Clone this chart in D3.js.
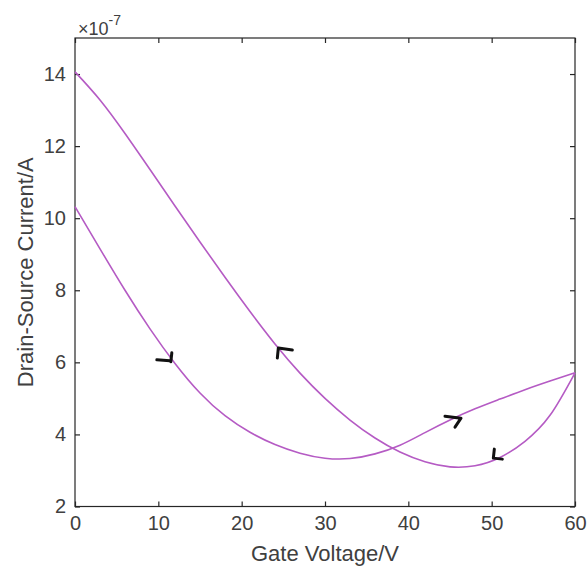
<!DOCTYPE html>
<html>
<head>
<meta charset="utf-8">
<script src="https://cdn.jsdelivr.net/npm/d3@7"></script>
<style>
  html, body { margin: 0; padding: 0; background: #fff; }
  svg { display: block; font-family: "Liberation Sans", Arial, sans-serif; }
</style>
</head>
<body>
<svg id="chart" width="587" height="571"></svg>
<script>
// Forward sweep (lower start at V=0)
const sweepUpX = [0, 3, 6, 9, 12, 15, 18, 21, 24, 27, 30, 33, 36, 39, 42, 45, 48, 51, 54, 57, 60];
const sweepUpY = [10.32, 9.15, 8.0, 6.93, 5.97, 5.15, 4.52, 4.06, 3.72, 3.48, 3.34, 3.33, 3.46, 3.7, 4.05, 4.4, 4.71, 4.98, 5.24, 5.48, 5.71];
// Return sweep (higher value at V=0)
const sweepDownX = [0, 3, 6, 9, 12, 15, 18, 21, 24, 27, 30, 33, 36, 39, 42, 45, 48, 51, 54, 57, 60];
const sweepDownY = [14.06, 13.28, 12.35, 11.35, 10.34, 9.34, 8.36, 7.41, 6.51, 5.7, 5.0, 4.4, 3.9, 3.51, 3.24, 3.1, 3.13, 3.36, 3.81, 4.53, 5.71];
// Hand-drawn direction marks: anchor in data units
const arrowX = [11.5, 24.4, 45.6, 50.2];
const arrowY = [6.1, 6.37, 4.45, 3.37];
const xTicks = [0, 10, 20, 30, 40, 50, 60];
const yTicks = [2, 4, 6, 8, 10, 12, 14];
const xLabel = "Gate Voltage/V";
const yLabel = "Drain-Source Current/A";

const svg = d3.select("#chart");
const mLeft = 75, mRight = 575, mTop = 38, mBottom = 506.5;
const x = d3.scaleLinear().domain([0, 60]).range([mLeft, mRight]);
const y = d3.scaleLinear().domain([2, 15]).range([mBottom, mTop]);
const axisColor = "#262626";

// Box
svg.append("rect").attr("x", mLeft).attr("y", mTop)
  .attr("width", mRight - mLeft).attr("height", mBottom - mTop)
  .attr("fill", "none").attr("stroke", axisColor).attr("stroke-width", 1.2);

// Axes (ticks inward)
const xAxis = svg.append("g").attr("transform", `translate(0,${mBottom})`)
  .call(d3.axisBottom(x).tickValues(xTicks).tickSizeInner(-5).tickSizeOuter(0).tickPadding(9));
const xTop = svg.append("g").attr("transform", `translate(0,${mTop})`)
  .call(d3.axisTop(x).tickValues(xTicks).tickSizeInner(-5).tickSizeOuter(0).tickFormat(""));
const yAxis = svg.append("g").attr("transform", `translate(${mLeft},0)`)
  .call(d3.axisLeft(y).tickValues(yTicks).tickSizeInner(-5).tickSizeOuter(0).tickPadding(9));
const yRight = svg.append("g").attr("transform", `translate(${mRight},0)`)
  .call(d3.axisRight(y).tickValues(yTicks).tickSizeInner(-5).tickSizeOuter(0).tickFormat(""));
[xAxis, xTop, yAxis, yRight].forEach(g => {
  g.select(".domain").remove();
  g.selectAll("line").attr("stroke", axisColor).attr("stroke-width", 1.2);
  g.selectAll("text").attr("fill", "#404040").attr("font-size", 20)
    .attr("font-family", "'Liberation Sans', Arial, sans-serif");
});
xAxis.selectAll("text").attr("dy", "0.71em");

// Exponent
const expo = svg.append("text").attr("x", mLeft + 3).attr("y", 35)
  .attr("fill", "#404040").attr("font-size", 18);
expo.append("tspan").text("\u00d710");
expo.append("tspan").attr("dy", -10).attr("font-size", 14).text("-7");

// Axis labels
svg.append("text").attr("x", (mLeft + mRight) / 2).attr("y", 561)
  .attr("text-anchor", "middle").attr("font-size", 22).attr("fill", "#404040").text(xLabel);
svg.append("text").attr("transform", `translate(33,${(mTop + mBottom) / 2}) rotate(-90)`)
  .attr("text-anchor", "middle").attr("font-size", 22).attr("fill", "#404040").text(yLabel);

// Curves
const line = d3.line().x(d => x(d[0])).y(d => y(d[1])).curve(d3.curveNatural);
const up = sweepUpX.map((v, i) => [v, sweepUpY[i]]);
const down = sweepDownX.map((v, i) => [v, sweepDownY[i]]);
[up, down].forEach(data => {
  svg.append("path").datum(data).attr("d", line)
    .attr("fill", "none").attr("stroke", "#b55bc4").attr("stroke-width", 1.6);
});

// Hand-drawn arrow marks (pixel offsets relative to anchor)
const arrowShapes = [
  "M-14,1 L-1,2 M1,-6 L0,3",
  "M-1,9 L0,-1 L14,1",
  "M-10,-2 L6,0 L0,9",
  "M1,-8 L0,1 L9,2"
];
arrowX.forEach((ax, i) => {
  svg.append("path")
    .attr("transform", `translate(${x(ax)},${y(arrowY[i])})`)
    .attr("d", arrowShapes[i])
    .attr("fill", "none").attr("stroke", "#111").attr("stroke-width", 3)
    .attr("stroke-linecap", "round").attr("stroke-linejoin", "round");
});
</script>
</body>
</html>
